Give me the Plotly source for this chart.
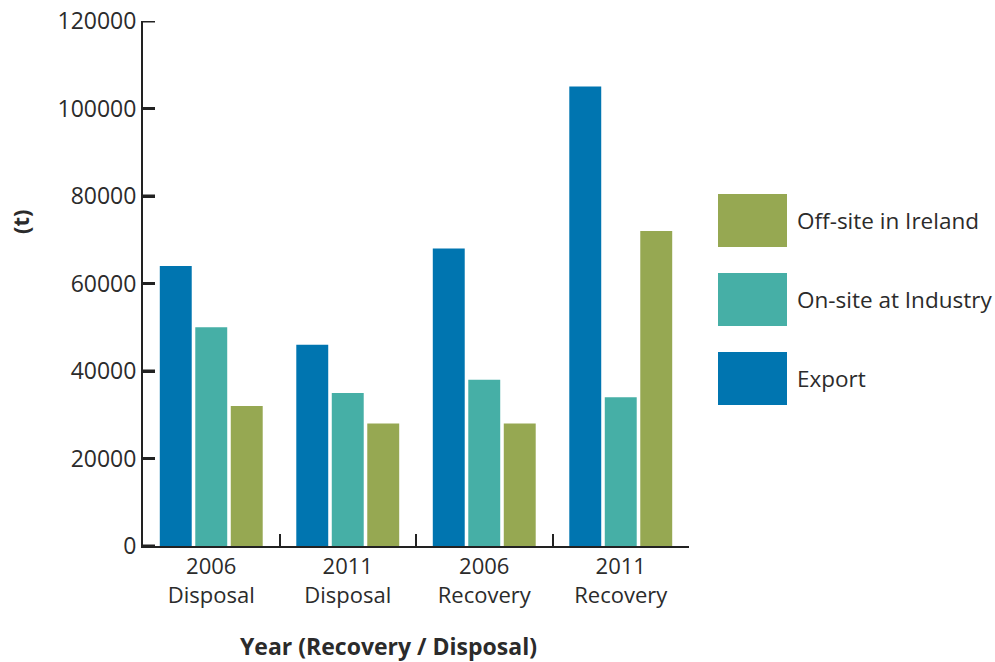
import plotly.graph_objects as go

# Tonnes by destination, per year and route
categories = ["2006<br>Disposal", "2011<br>Disposal", "2006<br>Recovery", "2011<br>Recovery"]
export_t = [64000, 46000, 68000, 105000]
onsite_t = [50000, 35000, 38000, 34000]
offsite_t = [32000, 28000, 28000, 72000]

series = [
    ("Export", export_t, "#0075B0"),
    ("On-site at Industry", onsite_t, "#46AFA6"),
    ("Off-site in Ireland", offsite_t, "#96A852"),
]

y_ticks = [0, 20000, 40000, 60000, 80000, 100000, 120000]

FONT = "Open Sans"
TXT = "#2b2b2b"
AXIS = "#222222"

fig = go.Figure()
for name, vals, col in series:
    fig.add_trace(go.Bar(x=categories, y=vals, name=name,
                         marker=dict(color=col, line=dict(width=0)),
                         showlegend=False))

fig.update_layout(
    width=995, height=662,
    margin=dict(l=143, r=306, t=21, b=116, autoexpand=False),
    paper_bgcolor="white", plot_bgcolor="white",
    barmode="group", bargap=0.22, bargroupgap=0.1,
    font=dict(family=FONT, size=22, color=TXT),
)

fig.update_yaxes(
    range=[0, 120000], tickvals=y_ticks, ticktext=[str(v) for v in y_ticks],
    showgrid=False, zeroline=False, automargin=False,
    showline=True, linecolor=AXIS, linewidth=2,
    ticks="inside", ticklen=12, tickwidth=3, tickcolor=AXIS,
    tickfont=dict(family=FONT, size=23, color=TXT),
)
fig.update_xaxes(
    showgrid=False, automargin=False,
    showline=True, linecolor=AXIS, linewidth=2,
    ticks="inside", tickson="boundaries", ticklen=12, tickwidth=2, tickcolor=AXIS,
    tickfont=dict(family=FONT, size=22, color=TXT),
)

# Short inward tick stubs on the value axis
for v in y_ticks:
    fig.add_shape(type="line", xref="paper", yref="y",
                  x0=0, x1=12 / 546, y0=v, y1=v,
                  line=dict(color=AXIS, width=3), layer="above")

# Axis titles
fig.add_annotation(text="<b>(t)</b>", xref="paper", yref="paper",
                   x=(20 - 143) / 546, y=(546 - 222) / 525,
                   textangle=-90, showarrow=False,
                   font=dict(family=FONT, size=22, color=TXT),
                   xanchor="center", yanchor="middle")
fig.add_annotation(text="<b>Year (Recovery / Disposal)</b>", xref="paper", yref="paper",
                   x=(388 - 143) / 546, y=-(646 - 546) / 525,
                   showarrow=False, font=dict(family=FONT, size=23, color=TXT),
                   xanchor="center", yanchor="middle")

# Legend: coloured blocks with labels
legend_items = [("Off-site in Ireland", "#96A852", 194),
                ("On-site at Industry", "#46AFA6", 273),
                ("Export", "#0075B0", 352)]
for label, col, top in legend_items:
    x0 = (718 - 143) / 546
    x1 = (787 - 143) / 546
    y_top = (546 - top) / 525
    y_bot = (546 - top - 53) / 525
    fig.add_shape(type="rect", xref="paper", yref="paper",
                  x0=x0, x1=x1, y0=y_bot, y1=y_top,
                  fillcolor=col, line=dict(width=0))
    fig.add_annotation(text=label, xref="paper", yref="paper",
                       x=(795 - 143) / 546, y=(y_top + y_bot) / 2,
                       xanchor="left", yanchor="middle", showarrow=False,
                       font=dict(family=FONT, size=22.5, color=TXT))

fig.write_html("out.html")
